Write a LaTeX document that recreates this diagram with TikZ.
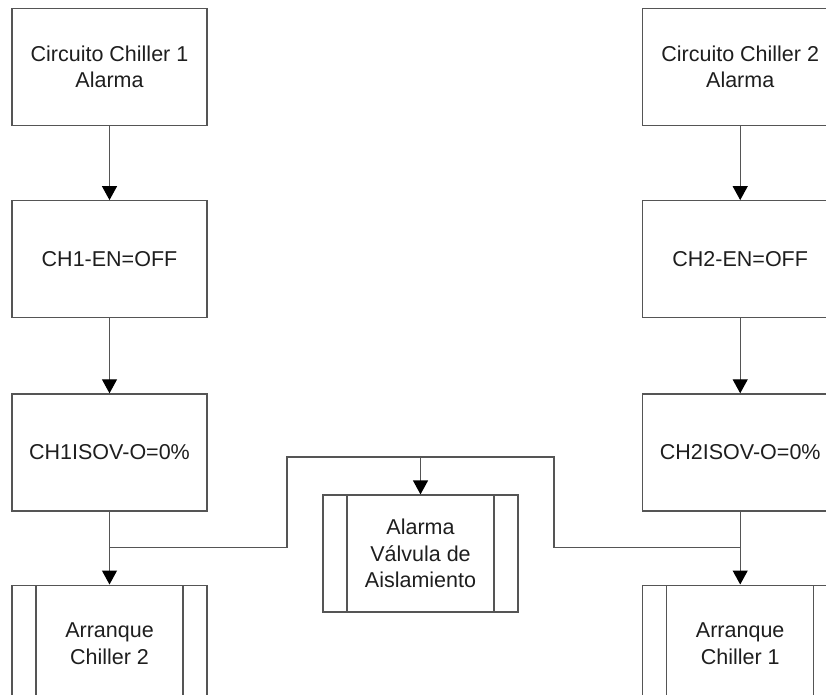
\documentclass[tikz,border=0pt]{standalone}
\usepackage{fontspec}
\setmainfont{Liberation Sans}
\usepackage{xcolor}
\usetikzlibrary{positioning,arrows.meta}

\definecolor{linegray}{HTML}{555555}
\definecolor{textgray}{HTML}{1E1E1E}

\tikzset{
  box/.style={draw=linegray, line width=1.2pt, minimum width=195pt, minimum height=117pt,
    inner sep=0pt, align=center, text=textgray, font=\fontsize{21.5}{26.5}\selectfont},
  subproc/.style={box, path picture={
    \draw[linegray, line width=1.2pt]
      ([xshift=24pt]path picture bounding box.north west) -- ([xshift=24pt]path picture bounding box.south west)
      ([xshift=-24pt]path picture bounding box.north east) -- ([xshift=-24pt]path picture bounding box.south east);}},
  flow/.style={draw=linegray, line width=1.2pt, -{Triangle[width=15pt,length=14pt,color=black]}},
  link/.style={draw=linegray, line width=1.2pt}
}

\begin{document}
\begin{tikzpicture}[node distance=74pt]
  \useasboundingbox (0,0) rectangle (826pt,-695pt);

  % chiller 1
  \node[box] (alarm1) at (109.5pt,-67pt) {Circuito Chiller 1\\Alarma};
  \node[box, below=of alarm1] (en1) {CH1-EN=OFF};
  \node[box, below=75pt of en1] (isov1) {CH1ISOV-O=0\%};
  \node[subproc, below=73pt of isov1] (start2) {Arranque\\Chiller 2};

  % chiller 2
  \node[box, right=434.5pt of alarm1] (alarm2) {Circuito Chiller 2\\Alarma};
  \node[box, below=of alarm2] (en2) {CH2-EN=OFF};
  \node[box, below=75pt of en2] (isov2) {CH2ISOV-O=0\%};
  \node[subproc, below=73pt of isov2] (start1) {Arranque\\Chiller 1};

  % isolation valve alarm
  \node[subproc] (valve) at (420.5pt,-553.5pt) {Alarma\\V\'alvula de\\Aislamiento};

  \coordinate[below=36pt of isov1] (split1);
  \coordinate[below=36pt of isov2] (split2);
  \coordinate (bus1) at (287pt,-457pt);
  \coordinate (bus2) at (554pt,-457pt);

  \draw[flow] (alarm1) -- (en1);
  \draw[flow] (en1) -- (isov1);
  \draw[flow] (isov1) -- (start2);
  \draw[flow] (alarm2) -- (en2);
  \draw[flow] (en2) -- (isov2);
  \draw[flow] (isov2) -- (start1);
  \draw[link] (split1) -| (bus1) -- (bus2) |- (split2);
  \draw[flow] (bus1 -| valve) -- (valve);
\end{tikzpicture}
\end{document}
